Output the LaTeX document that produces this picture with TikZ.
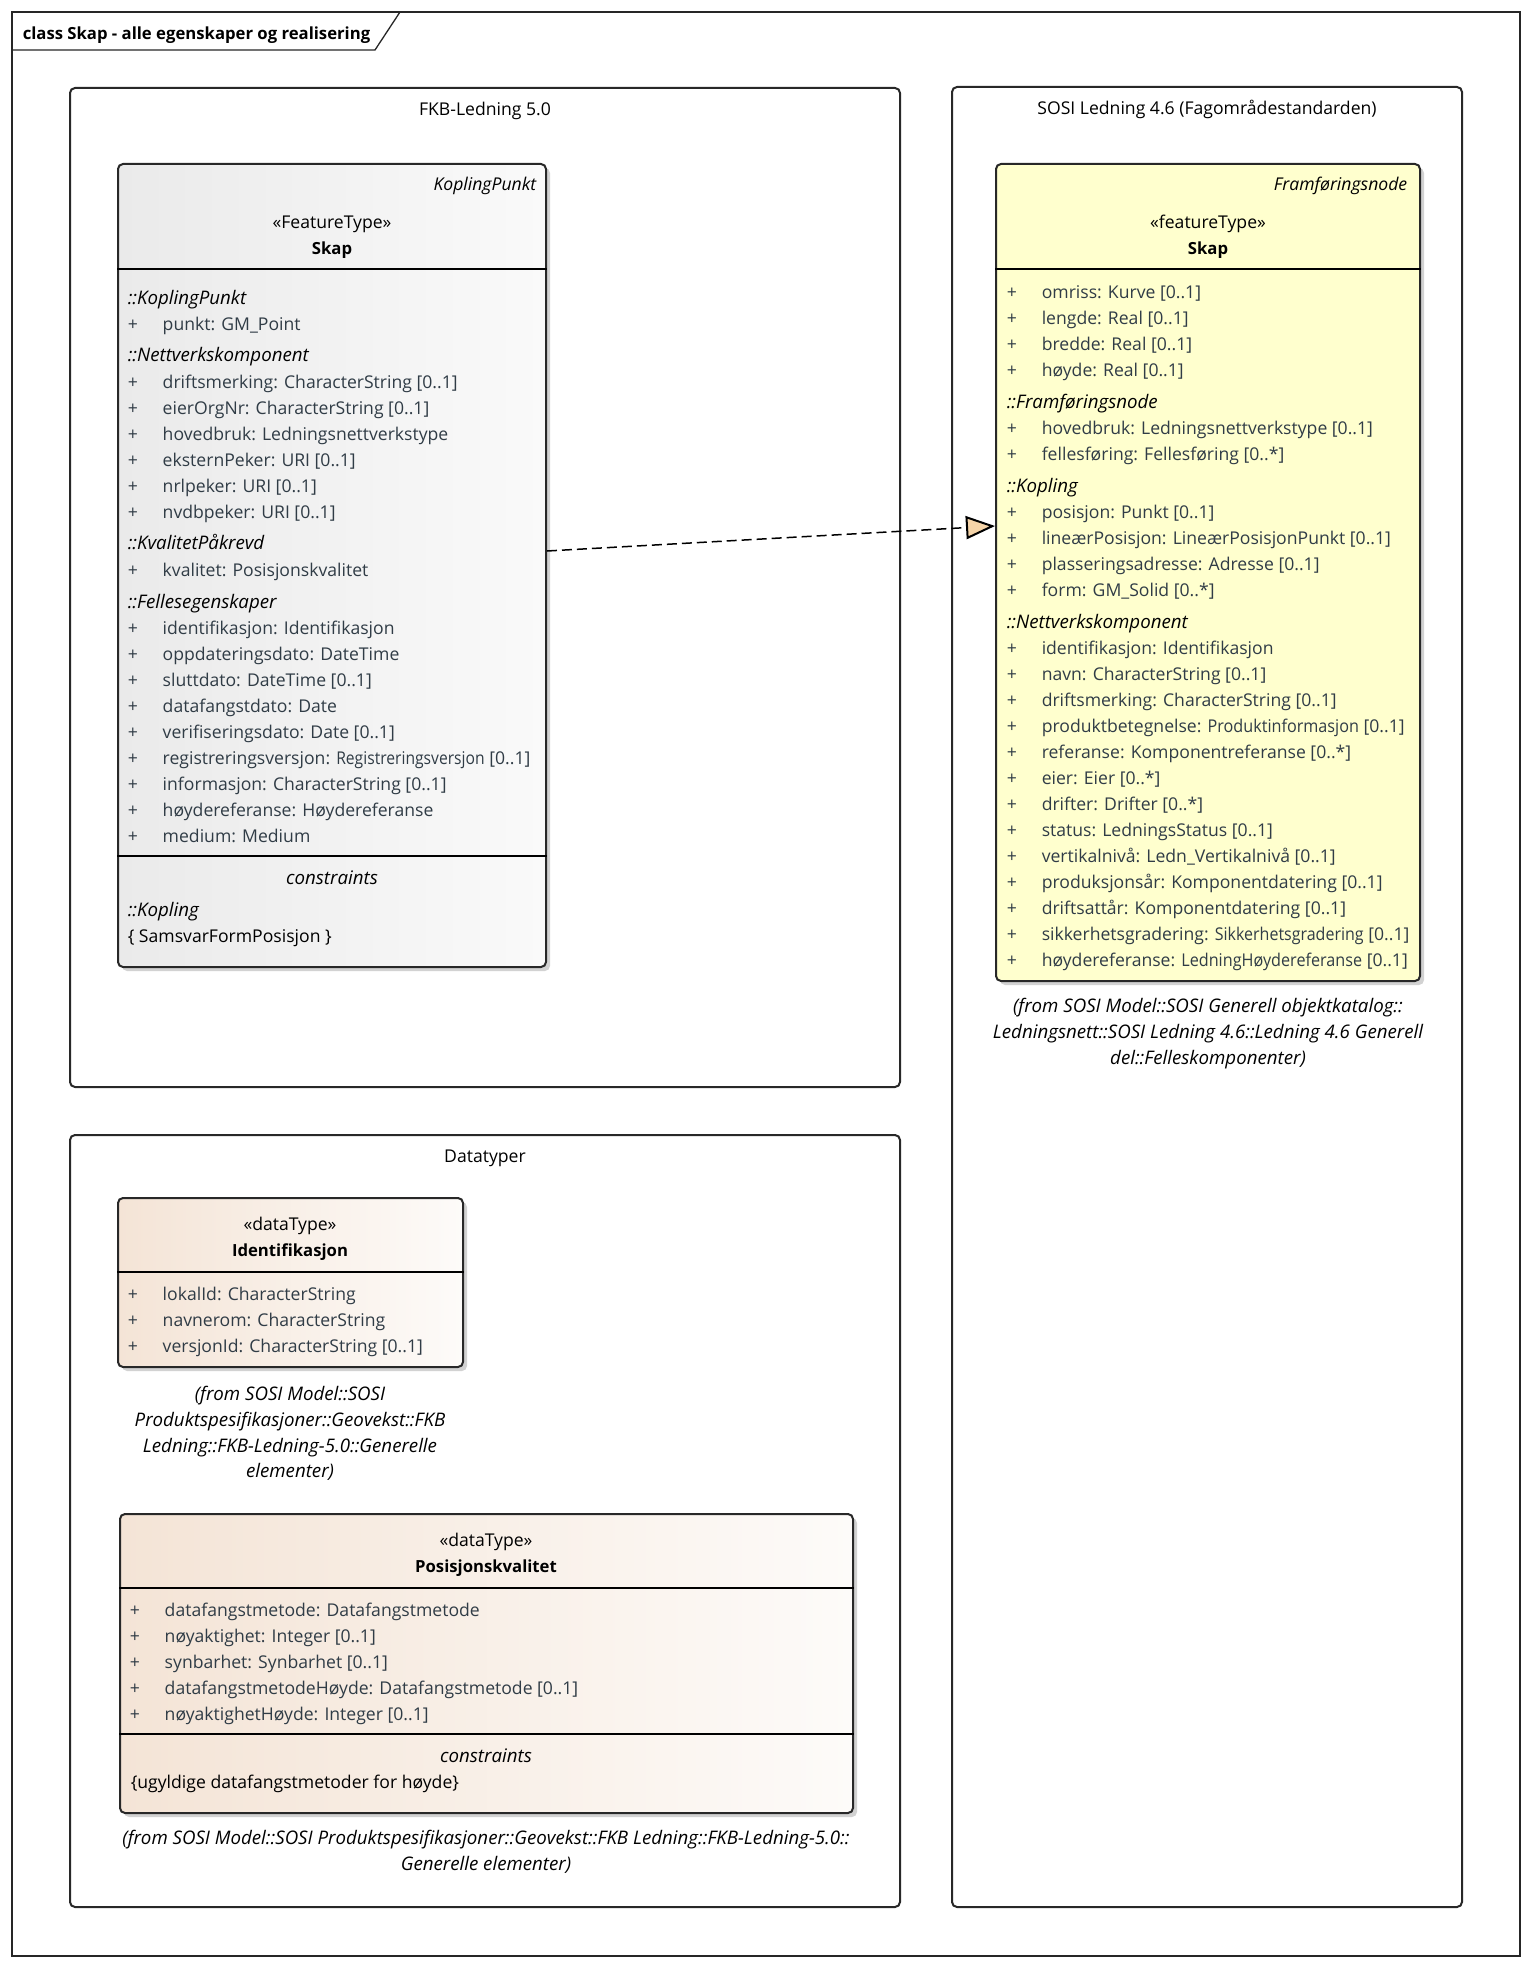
\documentclass[tikz,border=0pt]{standalone}
\usepackage{fontspec}
\usepackage{graphicx}
\setmainfont{Open Sans}
\usetikzlibrary{positioning,fit,shadows,calc,arrows.meta}

\definecolor{attrtext}{RGB}{48,60,70}
\definecolor{linecol}{RGB}{40,40,40}
\definecolor{kpleft}{RGB}{234,234,234}
\definecolor{kpright}{RGB}{250,250,250}
\definecolor{featurefill}{RGB}{255,255,206}
\definecolor{dtleft}{RGB}{244,228,214}
\definecolor{dtright}{RGB}{253,251,249}
\definecolor{realfill}{RGB}{245,212,168}

\newcommand{\umlfont}{\fontsize{8.8pt}{13pt}\selectfont}
\newcommand{\umlitfont}{\fontsize{9.35pt}{13pt}\selectfont\itshape}
\newcommand{\umlbffont}{\fontsize{8.35pt}{13pt}\selectfont\bfseries}
\newcommand{\plus}{\makebox[17.5pt][l]{+}}
\newcommand{\narrow}[2]{\scalebox{#1}[1]{#2}}

\tikzset{every picture/.style={line width=0.75pt}}
\tikzset{
  pkgbox/.style={draw=linecol, line width=1pt, rounded corners=2.5pt, inner sep=0pt},
  classbox/.style={draw=linecol, line width=1pt, rounded corners=2.5pt, inner sep=0pt,
    drop shadow={shadow xshift=2pt, shadow yshift=-2pt, fill=black!35, opacity=0.5}},
  sepline/.style={draw=black, line width=1pt},
  attr/.style={anchor=base west, inner sep=0pt, yshift=-0.6pt, text=attrtext, font=\umlfont},
  grouphead/.style={anchor=base west, inner sep=0pt, yshift=-0.6pt, font=\umlitfont},
  plaintext/.style={anchor=base west, inner sep=0pt, yshift=-0.6pt, font=\umlfont},
  centertext/.style={anchor=base, inner sep=0pt, yshift=-0.6pt, font=\umlfont},
  parentname/.style={anchor=base east, inner sep=0pt, yshift=-0.6pt, font=\umlfont\itshape},
  classname/.style={anchor=base, inner sep=0pt, yshift=-0.6pt, font=\umlbffont},
  caption/.style={anchor=base, inner sep=0pt, yshift=-0.6pt, font=\umlitfont},
  realize/.style={line width=0.75pt, dash pattern=on 5pt off 2.5pt,
    -{Triangle[width=11.5pt, length=14.5pt, line width=1pt, fill=realfill]}}
}

\begin{document}
\begin{tikzpicture}[x=0.5pt,y=0.5pt,yscale=-1,xscale=1]
	\useasboundingbox (0,0) rectangle (1532,1968);
	
	%frame
	\draw [line width=0.65pt, draw=black!85] (12,12) rectangle (1520,1956);
	\draw [line width=0.65pt, draw=black!85] (12,50) -- (375,50) -- (400,12);
	\node (title) [plaintext, font=\umlbffont] at (22,38) {class Skap - alle egenskaper og realisering};
	
	%packages
	\node (fkbpkg) [pkgbox, fit={(70,88) (900,1087)}] {};
	\node (sosipkg) [pkgbox, fit={(952,87) (1462,1907)}] {};
	\node (datapkg) [pkgbox, fit={(70,1135) (900,1907)}] {};
	\node (fkbpkgname) [centertext] at (485,114) {FKB-Ledning 5.0};
	\node (sosipkgname) [centertext] at (1207,113) {SOSI Ledning 4.6 (Fagområdestandarden)};
	\node (datapkgname) [centertext] at (485,1161) {Datatyper};
	
	%Class: Skap (FKB)
	\node (fkbskap) [classbox, left color=kpleft, right color=kpright, fit={(118,164) (546,967)}] {};
	\draw [sepline] (fkbskap.west |- 0,269) -- (fkbskap.east |- 0,269);
	\draw [sepline] (fkbskap.west |- 0,856) -- (fkbskap.east |- 0,856);
	\node (fkbparent) [parentname] at (537,189) {KoplingPunkt};
	\node (fkbstereo) [centertext] at (332,227) {«FeatureType»};
	\node (fkbname) [classname] at (332,253) {Skap};
	\node (fkbh1) [grouphead] at (127,303) {::KoplingPunkt};
	\node (fkbh2) [grouphead] at (127,360) {::Nettverkskomponent};
	\node (fkbh3) [grouphead] at (127,548) {::KvalitetPåkrevd};
	\node (fkbh4) [grouphead] at (127,607) {::Fellesegenskaper};
	\foreach \y/\txt in {329/{punkt: GM\_Point},
		387/{driftsmerking: CharacterString [0..1]},
		413/{eierOrgNr: CharacterString [0..1]},
		439/{hovedbruk: Ledningsnettverkstype},
		465/{eksternPeker: URI [0..1]},
		491/{nrlpeker: URI [0..1]},
		517/{nvdbpeker: URI [0..1]},
		575/{kvalitet: Posisjonskvalitet},
		633/{identifikasjon: Identifikasjon},
		659/{oppdateringsdato: DateTime},
		685/{sluttdato: DateTime [0..1]},
		711/{datafangstdato: Date},
		737/{verifiseringsdato: Date [0..1]},
		763/{registreringsversjon: \narrow{0.89}{Registreringsversjon} [0..1]},
		789/{informasjon: CharacterString [0..1]},
		815/{høydereferanse: Høydereferanse},
		841/{medium: Medium}}
		\node (fkba\y) [attr] at (127,\y) {\plus\txt};
	\node (fkbconstr) [centertext, font=\umlitfont] at (332,883) {constraints};
	\node (fkbch) [grouphead] at (127,915) {::Kopling};
	\node (fkbc1) [plaintext] at (127,941) {\{ SamsvarFormPosisjon \}};
	
	%Class: Skap (SOSI Ledning 4.6)
	\node (framskap) [classbox, fill=featurefill, fit={(996,164) (1420,981)}] {};
	\draw [sepline] (framskap.west |- 0,269) -- (framskap.east |- 0,269);
	\node (framparent) [parentname] at (1408,189) {Framføringsnode};
	\node (framstereo) [centertext] at (1208,227) {«featureType»};
	\node (framname) [classname] at (1208,253) {Skap};
	\node (framh1) [grouphead] at (1006,407) {::Framføringsnode};
	\node (framh2) [grouphead] at (1006,491) {::Kopling};
	\node (framh3) [grouphead] at (1006,627) {::Nettverkskomponent};
	\foreach \y/\txt in {297/{omriss: Kurve [0..1]},
		323/{lengde: Real [0..1]},
		349/{bredde: Real [0..1]},
		375/{høyde: Real [0..1]},
		433/{hovedbruk: Ledningsnettverkstype [0..1]},
		459/{fellesføring: Fellesføring [0..*]},
		517/{posisjon: Punkt [0..1]},
		543/{lineærPosisjon: LineærPosisjonPunkt [0..1]},
		569/{plasseringsadresse: Adresse [0..1]},
		595/{form: GM\_Solid [0..*]},
		653/{identifikasjon: Identifikasjon},
		679/{navn: CharacterString [0..1]},
		705/{driftsmerking: CharacterString [0..1]},
		731/{produktbetegnelse: \narrow{0.92}{Produktinformasjon} [0..1]},
		757/{referanse: Komponentreferanse [0..*]},
		783/{eier: Eier [0..*]},
		809/{drifter: Drifter [0..*]},
		835/{status: LedningsStatus [0..1]},
		861/{vertikalnivå: Ledn\_Vertikalnivå [0..1]},
		887/{produksjonsår: Komponentdatering [0..1]},
		913/{driftsattår: Komponentdatering [0..1]},
		939/{sikkerhetsgradering: \narrow{0.91}{Sikkerhetsgradering} [0..1]},
		965/{høydereferanse: \narrow{0.92}{LedningHøydereferanse} [0..1]}}
		\node (frama\y) [attr] at (1006,\y) {\plus\txt};
	\node (framfrom1) [caption] at (1208,1011) {(from SOSI Model::SOSI Generell objektkatalog::};
	\node (framfrom2) [caption] at (1208,1037) {Ledningsnett::SOSI Ledning 4.6::Ledning 4.6 Generell};
	\node (framfrom3) [caption] at (1208,1063) {del::Felleskomponenter)};
	
	%Class: Identifikasjon
	\node (ident) [classbox, left color=dtleft, right color=dtright, fit={(118,1198) (463,1367)}] {};
	\draw [sepline] (ident.west |- 0,1272) -- (ident.east |- 0,1272);
	\node (identstereo) [centertext] at (290,1229) {«dataType»};
	\node (identname) [classname] at (290,1255) {Identifikasjon};
	\foreach \y/\txt in {1299/{lokalId: CharacterString},
		1325/{navnerom: CharacterString},
		1351/{versjonId: CharacterString [0..1]}}
		\node (identa\y) [attr] at (127,\y) {\plus\txt};
	\node (identfrom1) [caption] at (290,1399) {(from SOSI Model::SOSI};
	\node (identfrom2) [caption] at (290,1425) {Produktspesifikasjoner::Geovekst::FKB};
	\node (identfrom3) [caption] at (290,1451) {Ledning::FKB-Ledning-5.0::Generelle};
	\node (identfrom4) [caption] at (290,1476) {elementer)};
	
	%Class: Posisjonskvalitet
	\node (poskval) [classbox, left color=dtleft, right color=dtright, fit={(120,1514) (853,1813)}] {};
	\draw [sepline] (poskval.west |- 0,1588) -- (poskval.east |- 0,1588);
	\draw [sepline] (poskval.west |- 0,1734) -- (poskval.east |- 0,1734);
	\node (posstereo) [centertext] at (486,1545) {«dataType»};
	\node (posname) [classname] at (486,1571) {Posisjonskvalitet};
	\foreach \y/\txt in {1615/{datafangstmetode: Datafangstmetode},
		1641/{nøyaktighet: Integer [0..1]},
		1667/{synbarhet: Synbarhet [0..1]},
		1693/{datafangstmetodeHøyde: Datafangstmetode [0..1]},
		1719/{nøyaktighetHøyde: Integer [0..1]}}
		\node (posa\y) [attr] at (129,\y) {\plus\txt};
	\node (posconstr) [centertext, font=\umlitfont] at (486,1761) {constraints};
	\node (posc1) [plaintext] at (130,1787) {\{ugyldige datafangstmetoder for høyde\}};
	\node (posfrom1) [caption] at (486,1843) {(from SOSI Model::SOSI Produktspesifikasjoner::Geovekst::FKB Ledning::FKB-Ledning-5.0::};
	\node (posfrom2) [caption] at (486,1869) {Generelle elementer)};
	
	%realisering
	\draw [realize] ($(fkbskap.east)+(0,-14.5)$) -- ($(framskap.west)+(0,-46.5)$);
	
\end{tikzpicture}
\end{document}
